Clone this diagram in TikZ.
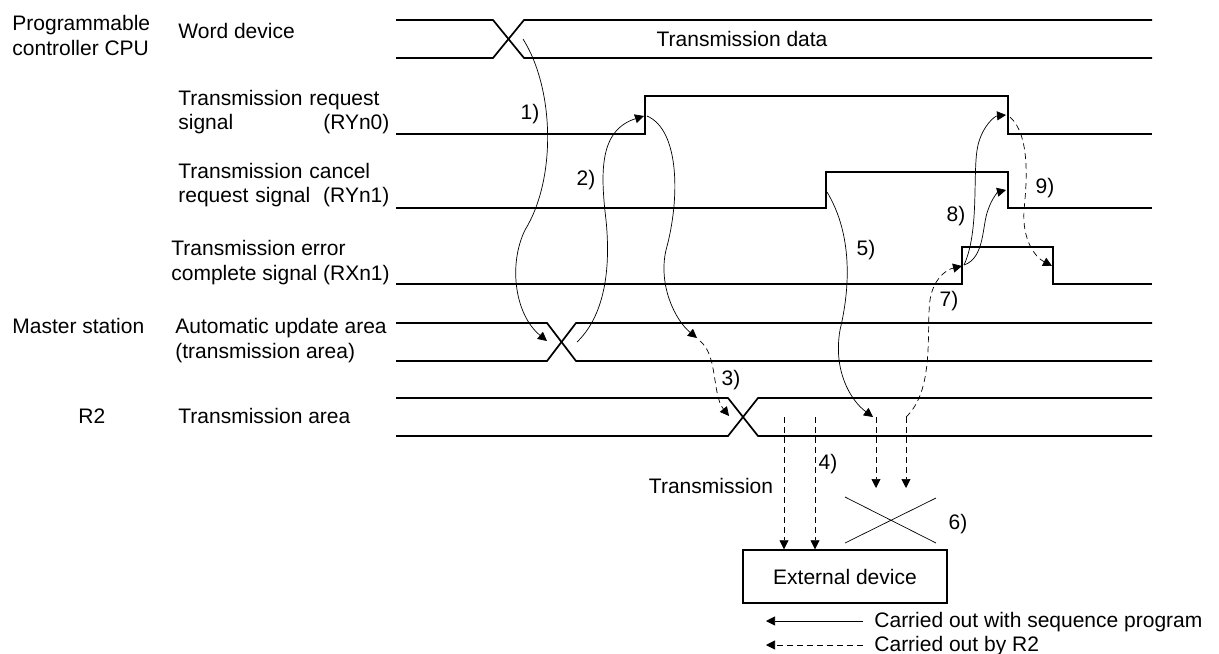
\documentclass[tikz,border=0pt]{standalone}
\usepackage{fontspec}
\setmainfont{Liberation Sans}
\usetikzlibrary{arrows.meta, positioning}

\begin{document}
\begin{tikzpicture}[x=0.5pt, y=-0.5pt,
    txt/.style={font=\fontsize{10.5pt}{12.3pt}\selectfont, inner sep=0pt},
    sig/.style={txt, anchor=base west, align=left},
    sigw/.style={sig, text width=#1},
    wave/.style={line width=0.85pt},
    flow/.style={-{Triangle[length=4.5pt,width=4.5pt]}, line width=0.35pt},
    byr/.style={flow, dash pattern=on 3pt off 2pt}
  ]
  \useasboundingbox (0,0) rectangle (1219,653);

  % station names
  \node[sig] (cpu) at (12,55) {Programmable\\controller CPU};
  \node[sig] (master) at (12,333) {Master station};
  \node[sig] (r2) at (78,423) {R2};

  % signal names
  \node[sig] (word) at (178,39) {Word device};
  \node[sigw=105.5pt] (ryn0) at (178,105) {Transmission request\\signal\hfill(RYn0)};
  \node[sigw=105.5pt] (ryn1) at (178,178) {Transmission cancel\\request signal\hfill(RYn1)};
  \node[sig] (rxn1) at (171,280) {Transmission error\\complete signal (RXn1)};
  \node[sig] (auto) at (175,358) {Automatic update area\\(transmission area)};
  \node[sig] (tarea) at (178,423) {Transmission area};

  % waveforms
  \draw[wave] (396,20) -- (493,20) -- (524,58) -- (1152,58);
  \draw[wave] (396,58) -- (493,58) -- (524,20) -- (1152,20);
  \node[txt, anchor=base] (tdata) at (742,46) {Transmission data};
  \draw[wave] (396,134) -- (645,134) -- (645,96) -- (1008,96) -- (1008,134) -- (1152,134);
  \draw[wave] (396,208) -- (826,208) -- (826,172) -- (1008,172) -- (1008,208) -- (1152,208);
  \draw[wave] (396,284) -- (962,284) -- (962,247) -- (1053,247) -- (1053,284) -- (1152,284);
  \draw[wave] (396,323) -- (547,323) -- (576,361) -- (1152,361);
  \draw[wave] (396,361) -- (547,361) -- (576,323) -- (1152,323);
  \draw[wave] (396,398) -- (728,398) -- (758,436) -- (1152,436);
  \draw[wave] (396,436) -- (728,436) -- (758,398) -- (1152,398);

  % change points
  \coordinate (wdx) at (523,39);
  \coordinate (aul) at (547,341);
  \coordinate (aur) at (577,342);
  \coordinate (r0up) at (644,116);
  \coordinate (r0upb) at (647,116);
  \coordinate (au3) at (697,338);
  \coordinate (au3b) at (700,341);
  \coordinate (tax) at (729,416);
  \coordinate (r1up) at (827,192);
  \coordinate (ta5) at (873,417);
  \coordinate (ta5b) at (876,417);
  \coordinate (ta5e) at (876,488);
  \coordinate (ta7) at (906,417);
  \coordinate (ta7e) at (906,488);
  \coordinate (x1up) at (962,266);
  \coordinate (x1upb) at (964,265);
  \coordinate (r0dn) at (1006,115);
  \coordinate (r0dnb) at (1010,117);
  \coordinate (r1dn) at (1006,190);
  \coordinate (x1dn) at (1052,266);
  \coordinate (t4a) at (784,417);
  \coordinate (t4b) at (815,417);

  % external device
  \node[txt, draw, line width=0.7pt, minimum width=102pt, minimum height=26.5pt]
    (dev) at (845,576.5) {External device};
  \node[txt] (tx) at (711,486) {Transmission};

  % flow
  \draw[flow] (wdx) .. controls (555,90) and (556,180) .. (525,230)
    .. controls (508,265) and (515,315) .. (aul);
  \draw[flow] (aur) .. controls (600,320) and (612,280) .. (606,220)
    .. controls (600,170) and (600,130) .. (r0up);
  \draw[flow] (r0upb) .. controls (680,130) and (680,200) .. (666,250)
    .. controls (658,285) and (675,320) .. (au3);
  \draw[byr] (au3b) .. controls (718,355) and (712,395) .. (tax);
  \draw[byr] (t4a) -- (t4a |- dev.north);
  \draw[byr] (t4b) -- (t4b |- dev.north);
  \draw[flow] (r1up) .. controls (850,230) and (852,280) .. (840,330)
    .. controls (833,370) and (850,400) .. (ta5);
  \draw[byr] (ta5b) -- (ta5e);
  \draw[byr] (ta7) -- (ta7e);
  \draw[byr] (ta7) .. controls (935,390) and (926,330) .. (930,300)
    .. controls (933,280) and (945,270) .. (x1up);
  \draw[flow] (x1upb) .. controls (980,230) and (972,170) .. (978,145)
    .. controls (983,125) and (995,116) .. (r0dn);
  \draw[flow] (x1upb) .. controls (985,258) and (982,225) .. (988,210)
    .. controls (992,198) and (998,192) .. (r1dn);
  \draw[byr] (r0dnb) .. controls (1030,135) and (1027,180) .. (1024,210)
    .. controls (1022,240) and (1035,257) .. (x1dn);

  % not sent
  \draw[line width=0.35pt] (845,497) -- (936,543);
  \draw[line width=0.35pt] (845,543) -- (936,498);

  % step numbers
  \node[txt] (n1) at (530,114) {1)};
  \node[txt] (n2) at (586,180) {2)};
  \node[txt] (n3) at (731,380) {3)};
  \node[txt] (n4) at (828,464) {4)};
  \node[txt] (n5) at (866,250) {5)};
  \node[txt] (n6) at (958,524) {6)};
  \node[txt] (n7) at (949,301) {7)};
  \node[txt] (n8) at (956,216) {8)};
  \node[txt] (n9) at (1045,188) {9)};

  % legend
  \coordinate (lg1) at (863,621);
  \coordinate (lg2) at (863,645);
  \draw[flow] (lg1) -- ++(-97,0);
  \draw[byr] (lg2) -- ++(-97,0);
  \node[sig] (lgt1) at (874,627) {Carried out with sequence program};
  \node[sig] (lgt2) at (874,651) {Carried out by R2};
\end{tikzpicture}
\end{document}
